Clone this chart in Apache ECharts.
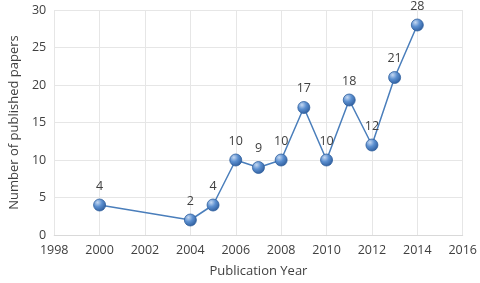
<!DOCTYPE html>
<html><head><meta charset="utf-8">
<script src="https://cdn.jsdelivr.net/npm/echarts@6/dist/echarts.min.js"></script>
<style>html,body{margin:0;padding:0;background:#fff}#c{width:480px;height:283px}</style>
</head><body><div id="c"></div>
<script>
const years = [2000, 2004, 2005, 2006, 2007, 2008, 2009, 2010, 2011, 2012, 2013, 2014];
const papers = [4, 2, 4, 10, 9, 10, 17, 10, 18, 12, 21, 28];
const xTitle = 'Publication Year';
const yTitle = 'Number of published papers';

const chart = echarts.init(document.getElementById('c'), null, {renderer: 'canvas'});
const font = '"Open Sans", "Liberation Sans", sans-serif';
chart.setOption({
  animation: false,
  grid: {left: 46, right: 17, top: 10, bottom: 46},
  xAxis: {
    type: 'value', min: 1998, max: 2016, interval: 2,
    name: xTitle, nameLocation: 'middle', nameGap: 30,
    nameTextStyle: {color: '#404040', fontSize: 13, fontFamily: font},
    axisLine: {show: true, lineStyle: {color: '#d9d9d9'}},
    axisTick: {show: false},
    axisLabel: {color: '#404040', fontSize: 12.5, fontFamily: font, margin: 9, formatter: v => String(v)},
    splitLine: {show: true, lineStyle: {color: '#e6e6e6', type: 'solid'}}
  },
  yAxis: {
    type: 'value', min: 0, max: 30, interval: 5,
    name: yTitle, nameLocation: 'middle', nameGap: 33,
    nameTextStyle: {color: '#404040', fontSize: 13, fontFamily: font},
    axisLine: {show: false}, axisTick: {show: false},
    axisLabel: {color: '#404040', fontSize: 12.5, fontFamily: font, margin: 8},
    splitLine: {show: true, lineStyle: {color: '#e6e6e6'}}
  },
  series: [{
    type: 'line',
    data: years.map((y, i) => [y, papers[i]]),
    symbol: 'circle', symbolSize: 12,
    lineStyle: {color: '#4a7ebb', width: 1.5},
    itemStyle: {
      color: new echarts.graphic.RadialGradient(0.35, 0.3, 0.75, [
        {offset: 0, color: '#c5d8f1'},
        {offset: 0.45, color: '#5b8fd0'},
        {offset: 1, color: '#2c5a99'}
      ]),
      borderColor: '#2f5f9e', borderWidth: 0.8
    },
    label: {show: true, position: 'top', distance: 6, color: '#404040', fontSize: 12.5, fontFamily: font}
  }]
});
</script></body></html>
